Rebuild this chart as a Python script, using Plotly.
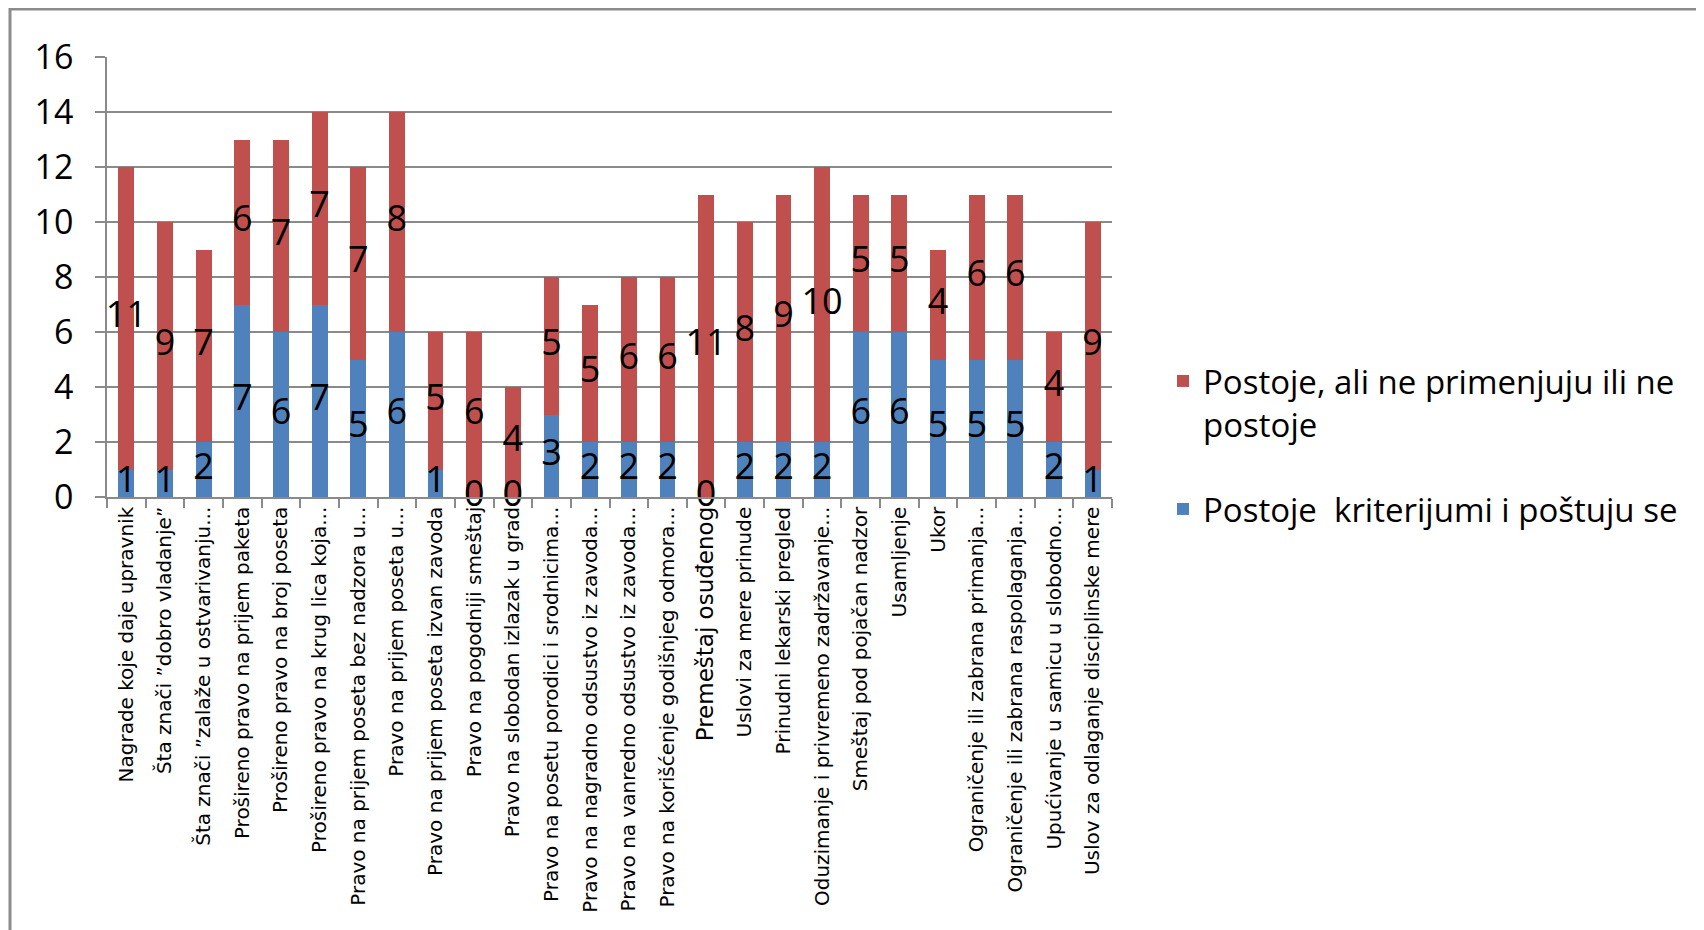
import plotly.graph_objects as go

categories = [
    "Nagrade koje daje upravnik",
    "Šta znači ”dobro vladanje”",
    "Šta znači ”zalaže u ostvarivanju...",
    "Prošireno pravo na prijem paketa",
    "Prošireno pravo na broj poseta",
    "Prošireno pravo na krug lica koja...",
    "Pravo na prijem poseta bez nadzora u...",
    "Pravo na prijem poseta u...",
    "Pravo na prijem poseta izvan zavoda",
    "Pravo na pogodniji smeštaj",
    "Pravo na slobodan izlazak u grad",
    "Pravo na posetu porodici i srodnicima...",
    "Pravo na nagradno odsustvo iz zavoda...",
    "Pravo na vanredno odsustvo iz zavoda...",
    "Pravo na korišćenje godišnjeg odmora...",
    "Premeštaj osuđenog",
    "Uslovi za mere prinude",
    "Prinudni lekarski pregled",
    "Oduzimanje i privremeno zadržavanje...",
    "Smeštaj pod pojačan nadzor",
    "Usamljenje",
    "Ukor",
    "Ograničenje ili zabrana primanja...",
    "Ograničenje ili zabrana raspolaganja...",
    "Upućivanje u samicu u slobodno...",
    "Uslov za odlaganje disciplinske mere",
]

postuju = [1, 1, 2, 7, 6, 7, 5, 6, 1, 0, 0, 3, 2, 2, 2, 0, 2, 2, 2, 6, 6, 5, 5, 5, 2, 1]
ne_primenjuju = [11, 9, 7, 6, 7, 7, 7, 8, 5, 6, 4, 5, 5, 6, 6, 11, 8, 9, 10, 5, 5, 4, 6, 6, 4, 9]

name_blue = "Postoje  kriterijumi i poštuju se"
name_red = "Postoje, ali ne primenjuju ili ne<br>postoje"
y_ticks = [0, 2, 4, 6, 8, 10, 12, 14, 16]

BLUE = "#4F81BD"
RED = "#C0504D"
GRID = "#8A8A8A"

idx = list(range(len(categories)))

# tick texts (one label drawn larger, as in the original)
big_labels = {15}
ticktext = [f'<span style="font-size:23px">{c}</span>' if i in big_labels else c
            for i, c in enumerate(categories)]

fig = go.Figure()
fig.add_trace(go.Bar(x=idx, y=postuju, name=name_blue, legend="legend2",
                     marker=dict(color=BLUE, line=dict(width=0))))
fig.add_trace(go.Bar(x=idx, y=ne_primenjuju, name=name_red, legend="legend",
                     marker=dict(color=RED, line=dict(width=0))))

blue_mid = [b / 2 for b in postuju]
red_mid = [b + r / 2 for b, r in zip(postuju, ne_primenjuju)]
label_font = dict(family="Open Sans", size=36, color="black")
fig.add_trace(go.Scatter(x=idx, y=blue_mid, text=[str(v) for v in postuju], mode="text",
                         textposition="middle center", textfont=label_font, showlegend=False,
                         hoverinfo="skip", cliponaxis=False))
fig.add_trace(go.Scatter(x=idx, y=red_mid, text=[str(v) for v in ne_primenjuju], mode="text",
                         textposition="middle center", textfont=label_font, showlegend=False,
                         hoverinfo="skip", cliponaxis=False))

# page has an 8px body margin; figure coordinates = reference pixels - 8
OFF = 8
W, H = 1704 - OFF, 930 - OFF
L, R, T, B = 107 - OFF, 1112 - OFF, 57 - OFF, 497 - OFF


def px_x(p):
    return (p - OFF - L) / (R - L)


def px_y(p):
    return (B - (p - OFF)) / (B - T)


legend_font = dict(family="Open Sans", size=33, color="black")

fig.update_layout(
    width=W, height=H,
    margin=dict(l=L, r=W - R, t=T, b=H - B, autoexpand=False),
    barmode="stack",
    bargap=0.59,
    plot_bgcolor="white",
    paper_bgcolor="white",
    font=dict(family="Open Sans", color="black"),
    showlegend=True,
    legend=dict(
        x=px_x(1163), y=px_y(353), xanchor="left", yanchor="top",
        valign="top",
        font=legend_font,
        bgcolor="rgba(0,0,0,0)",
    ),
    legend2=dict(
        x=px_x(1163), y=px_y(481), xanchor="left", yanchor="top",
        valign="top",
        font=legend_font,
        bgcolor="rgba(0,0,0,0)",
    ),
    shapes=[
        dict(type="rect", xref="paper", yref="paper",
             x0=px_x(10), x1=px_x(1780), y0=px_y(1000), y1=px_y(9),
             line=dict(color="#8C8C8C", width=3), fillcolor="rgba(0,0,0,0)", layer="below"),
    ],
)

fig.update_xaxes(
    tickmode="array", tickvals=idx, ticktext=ticktext,
    range=[-0.5, len(categories) - 0.5],
    tickangle=-90,
    tickfont=dict(family="DejaVu Sans", size=20, color="black"),
    showline=True, linecolor=GRID, linewidth=1.5,
    ticks="", showgrid=False, zeroline=False,
    automargin=False,
)
fig.update_xaxes(minor=dict(tickmode="array", tickvals=[i - 0.5 for i in range(len(categories) + 1)],
                            ticks="outside", ticklen=9, tickcolor=GRID, tickwidth=1.5, showgrid=False))

fig.update_yaxes(
    range=[0, 16], tickmode="array", tickvals=y_ticks,
    tickfont=dict(family="Open Sans", size=34, color="black"),
    showgrid=True, gridcolor=GRID, gridwidth=1.5,
    showline=True, linecolor=GRID, linewidth=1.5,
    ticks="outside", ticklen=10, tickcolor=GRID, tickwidth=1.5,
    ticklabelstandoff=15,
    zeroline=False,
    automargin=False,
)

fig.write_html("out.html")
